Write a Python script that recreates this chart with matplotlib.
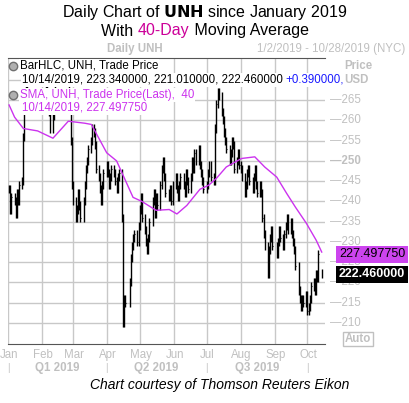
import matplotlib
matplotlib.use("Agg")
import matplotlib.pyplot as plt
import matplotlib.dates as mdates
import pandas as pd
import numpy as np

plt.rcParams["font.family"] = ["Liberation Sans", "DejaVu Sans"]

holidays = ["2019-01-21", "2019-02-18", "2019-04-19", "2019-05-27", "2019-07-04", "2019-09-02"]
closes = [
    243, 238, 241,
    240, 237, 242, 240, 244,
    245, 256, 263, 268, 270,
    270, 271, 272, 271,
    270, 272, 271, 273,
    # Feb
    271,
    270, 268, 267, 262, 258,
    261, 266, 270, 271, 272,
    271, 272, 270, 271,
    272, 266, 255, 244,
    # Mar
    240,
    236, 238, 242, 239, 236,
    240, 244, 248, 250, 253,
    255, 258, 257, 254, 248,
    246, 243, 240, 244, 247,
    # Apr
    249, 247, 244, 246, 248,
    247, 245, 243, 246, 247,
    236, 210, 216, 215,
    220, 226, 229, 231, 232,
    230, 234,
    # May
    238, 241, 236,
    233, 230, 228, 231, 235,
    240, 242, 237, 241, 239,
    244, 248, 250, 246, 242,
    241, 243, 240, 244,
    # Jun
    246, 243, 241, 244, 246,
    244, 242, 247, 245, 243,
    246, 250, 248, 252, 250,
    253, 249, 247, 245, 243,
    # Jul
    244, 247, 249, 246,
    245, 258, 264, 267, 266,
    262, 260, 257, 255, 253,
    250, 252, 255, 254, 248,
    250, 252, 249,
    # Aug
    248, 246,
    242, 244, 247, 248, 245,
    243, 246, 248, 244, 242,
    244, 242, 236, 232, 229,
    222, 228, 231, 233, 229,
    # Sep
    227, 230, 233, 231,
    229, 232, 234, 236, 233,
    235, 232, 230, 228, 224,
    218, 216, 214, 216, 215,
    217,
    # Oct
    213, 214, 216, 219,
    220, 218, 222, 221, 227,
    222.46,
]
sma_dates = ["2019-01-02", "2019-01-07", "2019-01-15", "2019-01-28", "2019-02-11", "2019-02-25",
             "2019-03-12", "2019-03-18", "2019-04-01", "2019-04-10", "2019-04-25", "2019-05-03",
             "2019-05-16", "2019-05-28", "2019-06-04", "2019-06-13", "2019-06-25", "2019-07-03",
             "2019-07-10", "2019-07-19", "2019-08-02", "2019-08-14", "2019-08-23", "2019-09-03",
             "2019-09-12", "2019-09-20", "2019-09-30", "2019-10-09", "2019-10-14"]
sma_vals = [263.8, 260.8, 258.0, 257.4, 255.6, 259.8,
            259.3, 259.0, 252.0, 250.0, 241.0, 240.0,
            237.8, 238.0, 236.9, 239.0, 243.0, 244.0,
            245.7, 248.5, 250.6, 251.0, 248.5, 246.0,
            242.0, 238.6, 234.6, 230.4, 227.5]
yticks = [210, 215, 220, 225, 230, 235, 240, 245, 250, 255, 260, 265]
months = ["Jan", "Feb", "Mar", "Apr", "May", "Jun", "Jul", "Aug", "Sep", "Oct"]
quarters = ["Q1 2019", "Q2 2019", "Q3 2019"]

days = pd.bdate_range("2019-01-02", "2019-10-14")
days = days[~days.isin(pd.to_datetime(holidays))]
c = np.array(closes, dtype=float)
n = min(len(days), len(c))
days = days[:n]; c = c[:n]
prev = np.concatenate([[c[0]], c[:-1]])
hi = np.maximum(c, prev) + 1.0
lo = np.minimum(c, prev) - 1.0
hi[-1], lo[-1] = 223.34, 221.01

W, H = 410, 403
fig = plt.figure(figsize=(W/100, H/100), dpi=100)
L, R, T, B = 8, 325, 58, 344
ax = fig.add_axes([L/W, 1-B/H, (R-L)/W, (B-T)/H])
x = mdates.date2num(days)
ax.vlines(x, lo, hi, color="black", lw=1.0)
ax.hlines(c, x, x+0.7, color="black", lw=0.8)
ax.plot(mdates.date2num(pd.to_datetime(sma_dates)), sma_vals, color="#cc33ee", lw=1.0)
x0 = mdates.date2num(pd.Timestamp("2019-01-01")); x1 = mdates.date2num(pd.Timestamp("2019-10-17"))
ax.set_xlim(x0, x1)
ax.set_ylim(204.8, 275.4)
mstarts = [mdates.date2num(pd.Timestamp(2019, m, 1)) for m in range(1, 11)]
for m in mstarts:
    ax.axvline(m, color="#c8c8c8", lw=1, zorder=0)
for yv in yticks + [270]:
    ax.axhline(yv, color="#c8c8c8", lw=1, zorder=0)
ax.set_xticks([]); ax.set_yticks([])
for s in ["left", "right"]:
    ax.spines[s].set_visible(False)
ax.spines["top"].set_color("#555555")
ax.spines["bottom"].set_color("#555555")

gray = "#c0c0c0"
fs = 8.3
for yv in yticks:
    ax.text(1.015, yv, "—" + str(yv), transform=ax.get_yaxis_transform(), color=gray,
            fontsize=fs, va="center", ha="left", fontweight="bold" if yv == 250 else "normal")
def ftext(px, py, s, **kw):
    return fig.text(px/W, 1-py/H, s, **kw)
def xpix(d):
    return L + (d - x0)/(x1 - x0)*(R-L)
for m, lab in zip(mstarts, months):
    ftext(xpix(m) + 1, 355, lab, color=gray, fontsize=fs, ha="center", va="center")
for i, q in enumerate(quarters):
    xa, xb = xpix(mstarts[3*i]), xpix(mstarts[3*i+3])
    ftext((xa+xb)/2, 368, q, color=gray, fontsize=fs, fontweight="bold", ha="center", va="center")
    ftext(xa, 368, "|", color=gray, fontsize=7, ha="center", va="center")
ftext(xpix(mstarts[9]), 368, "|", color=gray, fontsize=7, ha="center", va="center")

# title
ftext(205, 12, "Daily Chart of $\\bf{UNH}$ since January 2019", fontsize=11.5, ha="center", va="center")
r = fig.canvas.get_renderer()
parts = [("With ", "black"), ("40-Day", "#cc0099"), (" Moving Average", "black")]
ts = [ftext(0, 31, p, fontsize=11.5, ha="left", va="center", color=col) for p, col in parts]
widths = [t.get_window_extent(r).width for t in ts]
xs = 205 - sum(widths)/2
for t, w in zip(ts, widths):
    t.set_x(xs/W); xs += w

ftext(135, 49, "Daily UNH", color=gray, fontsize=fs, fontweight="bold", ha="center", va="center")
ftext(405, 49, "1/2/2019 - 10/28/2019 (NYC)", color=gray, fontsize=fs, ha="right", va="center")
ftext(344, 66, "Price", color=gray, fontsize=fs, fontweight="bold", ha="left", va="center")
ftext(344, 80, "USD", color=gray, fontsize=fs, fontweight="bold", ha="left", va="center")
bb = dict(facecolor="white", edgecolor="none", pad=0.5)
ftext(20, 66, "BarHLC, UNH, Trade Price", fontsize=fs, ha="left", va="center", bbox=bb)
ftext(22, 80, "10/14/2019, 223.340000, 221.010000, 222.460000,", fontsize=fs, ha="left", va="center", bbox=bb)
ftext(285, 80, "+0.390000,", fontsize=fs, ha="left", va="center", color="#1a1aff", bbox=bb)
ftext(20, 95, "SMA, UNH, Trade Price(Last),  40", fontsize=fs, ha="left", va="center", color="#cc33ee", bbox=bb)
ftext(22, 108, "10/14/2019, 227.497750", fontsize=fs, ha="left", va="center", color="#cc33ee", bbox=bb)
for py in (66, 95):
    fig.add_artist(plt.Line2D([13/W], [1-py/H], marker="o", ms=6, mfc="#b0b0b0", mec="#707070"))
ftext(372, 254, "227.497750", fontsize=9, ha="center", va="center", color="black",
      bbox=dict(facecolor="#cc44ee", edgecolor="none", pad=1.8))
ftext(372, 274, "222.460000", fontsize=9, ha="center", va="center", color="white", fontweight="bold",
      bbox=dict(facecolor="black", edgecolor="none", pad=1.8))
ftext(358, 339, "Auto", color=gray, fontsize=fs, fontweight="bold", ha="center", va="center",
      bbox=dict(facecolor="white", edgecolor=gray, pad=1))
ftext(220, 385, "Chart courtesy of Thomson Reuters Eikon", fontsize=10, style="italic", ha="center", va="center")
fig.savefig("out.png", dpi=100)
